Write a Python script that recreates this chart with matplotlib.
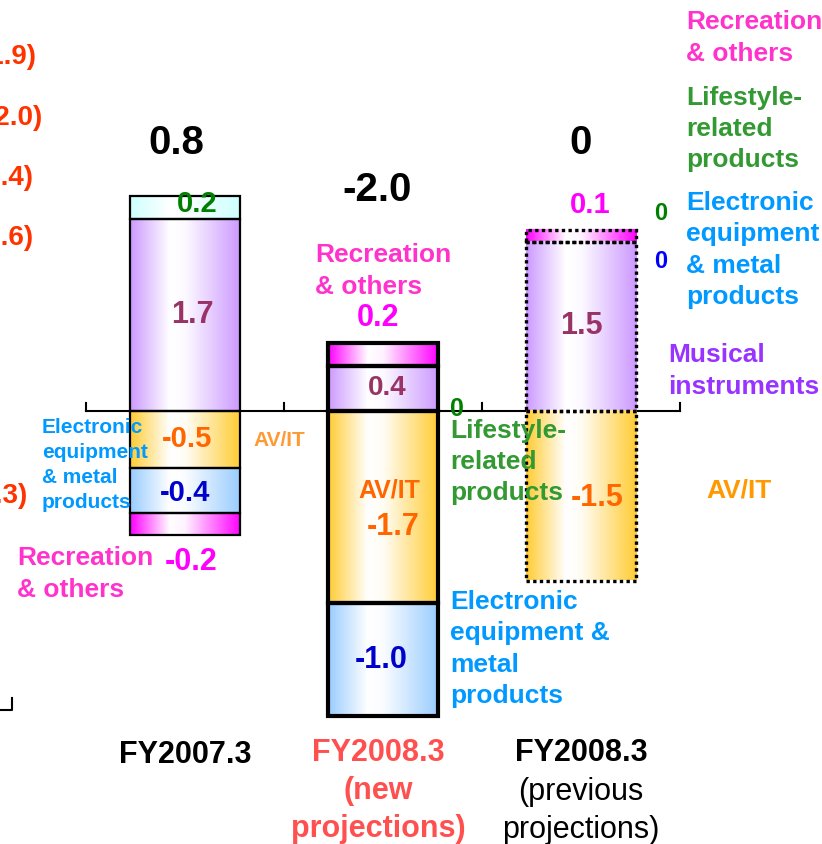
import matplotlib.pyplot as plt
import numpy as np
from matplotlib.colors import to_rgb
from matplotlib.patches import Rectangle

plt.rcParams['font.family'] = ['Liberation Sans', 'DejaVu Sans']

# data
segments = ["Musical instruments", "AV/IT", "Electronic equipment & metal products",
            "Lifestyle-related products", "Recreation & others"]
fy2007 = [1.7, -0.5, -0.4, 0.2, -0.2]
fy2008_new = [0.4, -1.7, -1.0, 0.0, 0.2]
fy2008_prev = [1.5, -1.5, 0.0, 0.0, 0.1]
totals = ["0.8", "-2.0", "0"]
left_values = ["(1.9)", "(2.0)", "(1.4)", "(1.6)", "(0.3)"]

seg_colors = ["#CC99FF", "#FFCC33", "#99CCFF", "#CCFFFF", "#FF00FF"]
val_colors = ["#993366", "#FF6600", "#0000CC", "#008000", "#FF00FF"]
lab_colors = ["#9933FF", "#FF9900", "#0099FF", "#339933", "#FF33CC"]

W, H = 822, 844
fig = plt.figure(figsize=(W / 100, H / 100), dpi=100)
ax = fig.add_axes([0, 0, 1, 1])
# 198 px per category, 113 px per unit, zero line at 411 px from top
ax.set_xlim(-185 / 198, (W - 185) / 198)
ax.set_ylim(-(H - 411) / 113, 411 / 113)
ax.axis('off')

bw = 0.56
t = np.linspace(0, 1, 200)
wgt = np.interp(t, [0, 0.36, 0.5, 1], [1, 0, 0.05, 1])


def gradient(col):
    c = np.array(to_rgb(col))
    img = (1 - wgt)[:, None] * np.ones(3) + wgt[:, None] * c
    return img[None, :, :]


def draw_bar(i, values, lw, ls):
    pos, neg = 0.0, 0.0
    spans = []
    for v, col in zip(values, seg_colors):
        if v == 0:
            spans.append(None)
            continue
        if v > 0:
            y0, y1 = pos, pos + v
            pos = y1
        else:
            y0, y1 = neg + v, neg
            neg = y0
        ax.imshow(gradient(col), extent=[i - bw / 2, i + bw / 2, y0, y1],
                  aspect='auto', interpolation='bilinear', zorder=2)
        ax.add_patch(Rectangle((i - bw / 2, y0), bw, y1 - y0, fill=False,
                               ec='black', lw=lw, ls=ls, zorder=3))
        spans.append((y0, y1))
    return spans


# axis line with upward ticks
ax.plot([-0.5, 2.5], [0, 0], color='black', lw=1.5, zorder=1)
for xt in [-0.5, 0.5, 1.5, 2.5]:
    ax.plot([xt, xt], [0, 0.07], color='black', lw=1.5, zorder=1)

s0 = draw_bar(0, fy2007, 1.6, '-')
s1 = draw_bar(1, fy2008_new, 3.0, '-')
s2 = draw_bar(2, fy2008_prev, 2.4, (0, (1, 1)))

# fragment of neighbouring chart at left
ax.plot([-0.874, -0.874, -0.94], [-2.54, -2.646, -2.646], color='black', lw=1.5)

bold = dict(fontweight='bold')


def mid(span):
    return (span[0] + span[1]) / 2


# values inside bars
ax.text(0.04, mid(s0[0]), "1.7", color=val_colors[0], fontsize=22, ha='center', va='center', zorder=4, **bold)
ax.text(0.01, mid(s0[1]), "-0.5", color=val_colors[1], fontsize=21, ha='center', va='center', zorder=4, **bold)
ax.text(0.0, mid(s0[2]) - 0.03, "-0.4", color=val_colors[2], fontsize=21, ha='center', va='center', zorder=4, **bold)
ax.text(0.06, mid(s0[3]) + 0.03, "0.2", color=val_colors[3], fontsize=21, ha='center', va='center', zorder=4, **bold)

ax.text(1.02, mid(s1[0]), "0.4", color=val_colors[0], fontsize=20, ha='center', va='center', zorder=4, **bold)
ax.text(1.03, mid(s1[1]) + 0.15, "AV/IT", color=val_colors[1], fontsize=18, ha='center', va='center', zorder=4, **bold)
ax.text(1.05, mid(s1[1]) - 0.18, "-1.7", color=val_colors[1], fontsize=22, ha='center', va='center', zorder=4, **bold)
ax.text(0.99, mid(s1[2]), "-1.0", color=val_colors[2], fontsize=22, ha='center', va='center', zorder=4, **bold)

ax.text(2.0, mid(s2[0]), "1.5", color=val_colors[0], fontsize=22, ha='center', va='center', zorder=4, **bold)
ax.text(2.08, mid(s2[1]) - 0.02, "-1.5", color=val_colors[1], fontsize=22, ha='center', va='center', zorder=4, **bold)


def ftext(x, y, s, **kw):
    fig.text(x / W, 1 - y / H, s, **kw)


# totals
ftext(176, 143, totals[0], fontsize=29, ha='center', va='center', **bold)
ftext(377, 190, totals[1], fontsize=29, ha='center', va='center', **bold)
ftext(581, 143, totals[2], fontsize=29, ha='center', va='center', **bold)

# values outside bars
ftext(191, 562, "-0.2", color=val_colors[4], fontsize=22, ha='center', va='center', **bold)
ftext(378, 318, "0.2", color=val_colors[4], fontsize=22, ha='center', va='center', **bold)
ftext(457, 409, "0", color=val_colors[3], fontsize=18, ha='center', va='center', **bold)
ftext(590, 205, "0.1", color=val_colors[4], fontsize=21, ha='center', va='center', **bold)
ftext(661, 213, "0", color=val_colors[3], fontsize=17, ha='center', va='center', **bold)
ftext(661, 261, "0", color="#0000FF", fontsize=17, ha='center', va='center', **bold)

# cut-off values at left edge
for s, xr, y in zip(left_values, [37, 43, 34, 34, 28], [57, 118, 178, 238, 496]):
    ftext(xr, y, s, color="#FF3300", fontsize=20, ha='right', va='center', **bold)

# segment labels
ls = 1.37
ftext(42, 465, "Electronic\nequipment\n& metal\nproducts", color=lab_colors[2], fontsize=15,
      ha='left', va='center', linespacing=1.39, **bold)
ftext(279, 441, "AV/IT", color="#FF9933", fontsize=15, ha='center', va='center', **bold)
ftext(17, 574, "Recreation\n& others", color=lab_colors[4], fontsize=19, ha='left', va='center',
      linespacing=ls, **bold)

ftext(315, 271, "Recreation\n& others", color=lab_colors[4], fontsize=19, ha='left', va='center',
      linespacing=ls, **bold)
ftext(450, 462, "Lifestyle-\nrelated\nproducts", color=lab_colors[3], fontsize=19, ha='left',
      va='center', linespacing=ls, **bold)
ftext(450, 649, "Electronic\nequipment &\nmetal\nproducts", color=lab_colors[2], fontsize=19,
      ha='left', va='center', linespacing=ls, **bold)

ftext(668, 371, "Musical\ninstruments", color=lab_colors[0], fontsize=19, ha='left', va='center',
      linespacing=ls, **bold)
ftext(739, 491, "AV/IT", color=lab_colors[1], fontsize=19, ha='center', va='center', **bold)
ftext(686, 38, "Recreation\n& others", color=lab_colors[4], fontsize=19, ha='left', va='center',
      linespacing=ls, **bold)
ftext(686, 129, "Lifestyle-\nrelated\nproducts", color=lab_colors[3], fontsize=19, ha='left',
      va='center', linespacing=ls, **bold)
ftext(686, 250, "Electronic\nequipment\n& metal\nproducts", color=lab_colors[2], fontsize=19,
      ha='left', va='center', linespacing=ls, **bold)

# category labels
ftext(185, 755, "FY2007.3", fontsize=22, ha='center', va='center', **bold)
ftext(378, 791, "FY2008.3\n(new\nprojections)", color="#FF5050", fontsize=22, ha='center',
      va='center', linespacing=1.33, **bold)
ftext(581, 753, "FY2008.3", fontsize=22, ha='center', va='center', **bold)
ftext(581, 811, "(previous\nprojections)", fontsize=22, ha='center', va='center', linespacing=1.33)

fig.savefig("out.png", dpi=100)
